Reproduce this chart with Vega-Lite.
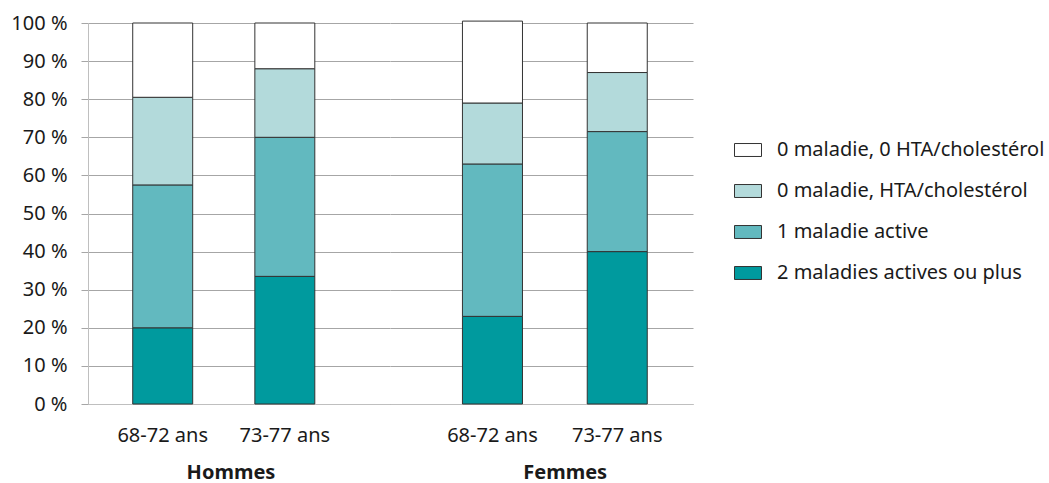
{
  "$schema": "https://vega.github.io/schema/vega-lite/v6.json",
  "padding": {"left": 0, "top": 13, "right": 0, "bottom": 8},
  "background": "white",
  "config": {
    "font": "Noto Sans",
    "view": {"stroke": null},
    "concat": {"spacing": 0},
    "axis": {
      "labelFont": "Noto Sans", "labelFontSize": 20, "labelColor": "#1a1a1a",
      "titleFont": "Noto Sans", "titleFontSize": 20, "titleFontWeight": "bold", "titleColor": "#1a1a1a",
      "gridColor": "#a6a6a6", "gridWidth": 1, "domainColor": "#bfbfbf", "domainWidth": 1, "tickColor": "#a6a6a6"
    },
    "legend": {
      "labelFont": "Noto Sans", "labelFontSize": 20, "labelColor": "#1a1a1a", "padding": 0
    }
  },
  "data": {
    "values": [
      {"sexe": "Hommes", "age": "68-72 ans", "categorie": "2 maladies actives ou plus", "ordre": 1, "valeur": 20},
      {"sexe": "Hommes", "age": "68-72 ans", "categorie": "1 maladie active", "ordre": 2, "valeur": 37.5},
      {"sexe": "Hommes", "age": "68-72 ans", "categorie": "0 maladie, HTA/cholestérol", "ordre": 3, "valeur": 23},
      {"sexe": "Hommes", "age": "68-72 ans", "categorie": "0 maladie, 0 HTA/cholestérol", "ordre": 4, "valeur": 19.5},
      {"sexe": "Hommes", "age": "73-77 ans", "categorie": "2 maladies actives ou plus", "ordre": 1, "valeur": 33.5},
      {"sexe": "Hommes", "age": "73-77 ans", "categorie": "1 maladie active", "ordre": 2, "valeur": 36.5},
      {"sexe": "Hommes", "age": "73-77 ans", "categorie": "0 maladie, HTA/cholestérol", "ordre": 3, "valeur": 18},
      {"sexe": "Hommes", "age": "73-77 ans", "categorie": "0 maladie, 0 HTA/cholestérol", "ordre": 4, "valeur": 12},
      {"sexe": "Femmes", "age": "68-72 ans", "categorie": "2 maladies actives ou plus", "ordre": 1, "valeur": 23},
      {"sexe": "Femmes", "age": "68-72 ans", "categorie": "1 maladie active", "ordre": 2, "valeur": 40},
      {"sexe": "Femmes", "age": "68-72 ans", "categorie": "0 maladie, HTA/cholestérol", "ordre": 3, "valeur": 16},
      {"sexe": "Femmes", "age": "68-72 ans", "categorie": "0 maladie, 0 HTA/cholestérol", "ordre": 4, "valeur": 21.5},
      {"sexe": "Femmes", "age": "73-77 ans", "categorie": "2 maladies actives ou plus", "ordre": 1, "valeur": 40},
      {"sexe": "Femmes", "age": "73-77 ans", "categorie": "1 maladie active", "ordre": 2, "valeur": 31.5},
      {"sexe": "Femmes", "age": "73-77 ans", "categorie": "0 maladie, HTA/cholestérol", "ordre": 3, "valeur": 15.5},
      {"sexe": "Femmes", "age": "73-77 ans", "categorie": "0 maladie, 0 HTA/cholestérol", "ordre": 4, "valeur": 13}
    ]
  },
  "resolve": {"scale": {"x": "independent"}},
  "hconcat": [
    {
      "width": 302,
      "height": 381,
      "transform": [{"filter": "datum.sexe === 'Hommes'"}],
      "mark": {"type": "bar", "stroke": "#333333", "strokeWidth": 1},
      "encoding": {
        "x": {
          "field": "age", "type": "nominal", "sort": ["68-72 ans", "73-77 ans"],
          "scale": {"paddingInner": 0.509, "paddingOuter": 0.491, "align": 0.373, "round": false},
          "axis": {"labelAngle": 0, "ticks": false, "labelPadding": 21, "title": "Hommes", "titleX": 142.5, "titleY": 74, "titleBaseline": "alphabetic", "titleAlign": "center"}
        },
        "y": {
          "field": "valeur", "type": "quantitative", "stack": "zero",
          "scale": {"domain": [0, 100], "nice": false},
          "axis": {"values": [0, 10, 20, 30, 40, 50, 60, 70, 80, 90, 100], "labelExpr": "datum.value + ' %'", "title": null, "tickSize": 7, "labelPadding": 14, "minExtent": 88, "maxExtent": 88, "grid": true}
        },
        "color": {
          "field": "categorie", "type": "nominal",
          "scale": {
            "domain": ["0 maladie, 0 HTA/cholestérol", "0 maladie, HTA/cholestérol", "1 maladie active", "2 maladies actives ou plus"],
            "range": ["#ffffff", "#b3dadb", "#62b9bf", "#009a9e"]
          },
          "legend": {
            "orient": "none", "legendX": 646, "legendY": 113, "title": null,
            "symbolType": "M-1,-0.48H1V0.48H-1Z", "symbolSize": 729,
            "symbolStrokeColor": "#333333", "symbolStrokeWidth": 1,
            "labelOffset": 15, "rowPadding": 17, "labelLimit": 400
          }
        },
        "order": {"field": "ordre", "type": "quantitative"}
      }
    },
    {
      "width": 303,
      "height": 381,
      "transform": [{"filter": "datum.sexe === 'Femmes'"}],
      "mark": {"type": "bar", "stroke": "#333333", "strokeWidth": 1},
      "encoding": {
        "x": {
          "field": "age", "type": "nominal", "sort": ["68-72 ans", "73-77 ans"],
          "scale": {"paddingInner": 0.519, "paddingOuter": 0.4735, "align": 0.613, "round": false},
          "axis": {"labelAngle": 0, "ticks": false, "labelPadding": 21, "title": "Femmes", "titleX": 174.7, "titleY": 74, "titleBaseline": "alphabetic", "titleAlign": "center"}
        },
        "y": {
          "field": "valeur", "type": "quantitative", "stack": "zero",
          "scale": {"domain": [0, 100], "nice": false},
          "axis": {"values": [0, 10, 20, 30, 40, 50, 60, 70, 80, 90, 100], "labels": false, "ticks": false, "domain": false, "title": null, "minExtent": 0, "maxExtent": 0, "grid": true}
        },
        "color": {"field": "categorie", "type": "nominal"},
        "order": {"field": "ordre", "type": "quantitative"}
      }
    }
  ]
}
